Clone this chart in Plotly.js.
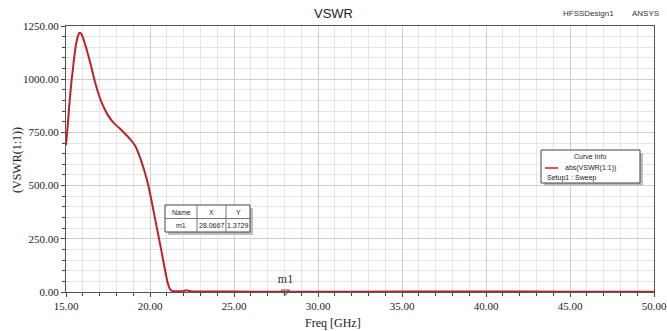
<!DOCTYPE html>
<html><head><meta charset="utf-8">
<script src="https://cdn.plot.ly/plotly-3.0.1.min.js"></script>
<style>html,body{margin:0;padding:0;background:#fff;}#c{width:667px;height:331px;}</style>
</head><body><div id="c"></div>
<script>
// Data
var freq = [15.0, 15.1, 15.2, 15.3, 15.4, 15.5, 15.6, 15.7, 15.8, 15.9, 16.0, 16.15, 16.3, 16.5, 16.7, 16.9, 17.1, 17.3, 17.5, 17.7, 17.9, 18.2, 18.5, 18.8, 19.1, 19.3, 19.5, 19.7, 19.9, 20.1, 20.3, 20.5, 20.7, 20.9, 21.05, 21.2, 21.35, 21.6, 22.0, 22.15, 22.4, 23.0, 24.0, 26.0, 28.0667, 30.0, 35.0, 40.0, 45.0, 50.0];
var vswr = [690, 780, 880, 970, 1040, 1110, 1165, 1200, 1218, 1214, 1198, 1160, 1120, 1060, 995, 940, 895, 860, 830, 808, 790, 768, 745, 720, 690, 655, 610, 560, 500, 425, 345, 265, 185, 100, 45, 12, 4, 3, 4, 8, 3, 2.5, 2, 1.6, 1.3729, 1.5, 1.8, 2.0, 1.7, 1.5];
var markerName = ['m1'];
var markerX = [28.0667];
var markerY = [1.3729];
var seriesName = 'abs(VSWR(1:1))';
var setupName = 'Setup1 : Sweep';

var red = '#c0202a';
var L = 66, R = 654, T = 26, B = 292;
function px(x){ return (x - L) / (R - L); }
function py(y){ return (B - y) / (B - T); }

var traces = [
  {x: freq, y: vswr, type: 'scatter', mode: 'lines', line: {color: red, width: 2, shape: 'spline', smoothing: 0.7}, hoverinfo: 'skip'},
  {x: markerX, y: markerY, type: 'scatter', mode: 'markers+text', text: markerName, textposition: 'top center',
   textfont: {family: 'Liberation Serif', size: 12, color: '#333'},
   marker: {symbol: 'triangle-down-open', size: 7, color: '#555', line: {width: 1}}, cliponaxis: false}
];

var shapes = [];
var ann = [];
function box(x0, y0, x1, y1, shadow){
  if (shadow){
    shapes.push({type:'rect', xref:'paper', yref:'paper', x0:px(x0+3), x1:px(x1+3), y0:py(y1+3), y1:py(y0+3), fillcolor:'#bdbdbd', line:{width:0}});
  }
  shapes.push({type:'rect', xref:'paper', yref:'paper', x0:px(x0), x1:px(x1), y0:py(y1), y1:py(y0), fillcolor:'#fff', line:{color:'#444', width:1}});
}
function txt(x, y, s, size, anchor, opts){
  var a = {xref:'paper', yref:'paper', x:px(x), y:py(y), text:s, showarrow:false, xanchor:anchor||'center', yanchor:'middle',
    font:{family:'Liberation Sans, Arial', size:size||7, color:'#222'}};
  if (opts) for (var k in opts) a[k] = opts[k];
  ann.push(a);
}
// marker table
box(165, 205, 250, 232, true);
shapes.push({type:'line', xref:'paper', yref:'paper', x0:px(165), x1:px(250), y0:py(218.5), y1:py(218.5), line:{color:'#777', width:1}});
shapes.push({type:'line', xref:'paper', yref:'paper', x0:px(197), x1:px(197), y0:py(205), y1:py(232), line:{color:'#777', width:1}});
shapes.push({type:'line', xref:'paper', yref:'paper', x0:px(226), x1:px(226), y0:py(205), y1:py(232), line:{color:'#777', width:1}});
txt(181, 212, 'Name', 7); txt(211.5, 212, 'X', 7); txt(238, 212, 'Y', 7);
txt(181, 225.5, markerName[0], 7); txt(211.5, 225.5, markerX[0].toFixed(4), 7); txt(238, 225.5, markerY[0].toFixed(4), 7);
// curve info legend
box(541, 150, 640, 183, true);
txt(590, 157, 'Curve Info', 7);
shapes.push({type:'line', xref:'paper', yref:'paper', x0:px(545), x1:px(558), y0:py(168), y1:py(168), line:{color:red, width:1.5}});
txt(563, 168, seriesName, 7, 'left');
txt(545, 178.5, setupName, 7, 'left');
// top right labels
txt(588, 14, 'HFSSDesign1', 8, 'center', {font:{family:'Liberation Sans Narrow, Arial', size:8, color:'#333'}});
txt(645, 14, 'ANSYS', 8, 'center', {font:{family:'Liberation Sans, Arial', size:8, color:'#333'}});
// axis titles
txt(333, 323, 'Freq [GHz]', 12, 'center', {font:{family:'Liberation Serif', size:12, color:'#222'}});
txt(17, 160, '(VSWR(1:1))', 12, 'center', {font:{family:'Liberation Serif', size:12, color:'#222'}, textangle:-90});

var layout = {
  width: 667, height: 331,
  margin: {l: L, r: 667 - R, t: T, b: 331 - B, pad: 0},
  paper_bgcolor: '#fff', plot_bgcolor: '#fff',
  showlegend: false,
  title: {text: 'VSWR', x: 0.5, xanchor: 'center', y: 0.96, yanchor: 'middle', font: {family: 'Liberation Sans, Arial', size: 13, color: '#222'}},
  xaxis: {range: [15, 50], dtick: 5, tick0: 15, tickformat: '.2f', showgrid: true, gridcolor: '#cfcfcf', gridwidth: 1,
    minor: {dtick: 1, showgrid: true, gridcolor: '#e6e6e6', ticklen: 3, tickcolor: '#444', ticks: 'outside'},
    ticks: 'outside', ticklen: 4, tickcolor: '#444', showline: true, linecolor: '#555', linewidth: 1, mirror: true,
    zeroline: false, tickfont: {family: 'Liberation Serif', size: 11, color: '#222'}},
  yaxis: {range: [0, 1250], dtick: 250, tick0: 0, tickformat: '.2f', showgrid: true, gridcolor: '#cfcfcf', gridwidth: 1,
    minor: {dtick: 50, showgrid: true, gridcolor: '#e6e6e6', ticklen: 3, tickcolor: '#444', ticks: 'outside'},
    ticks: 'outside', ticklen: 4, tickcolor: '#444', showline: true, linecolor: '#555', linewidth: 1, mirror: true,
    zeroline: false, tickfont: {family: 'Liberation Serif', size: 11, color: '#222'}},
  shapes: shapes,
  annotations: ann
};
Plotly.newPlot('c', traces, layout, {staticPlot: true, displayModeBar: false});
</script></body></html>
